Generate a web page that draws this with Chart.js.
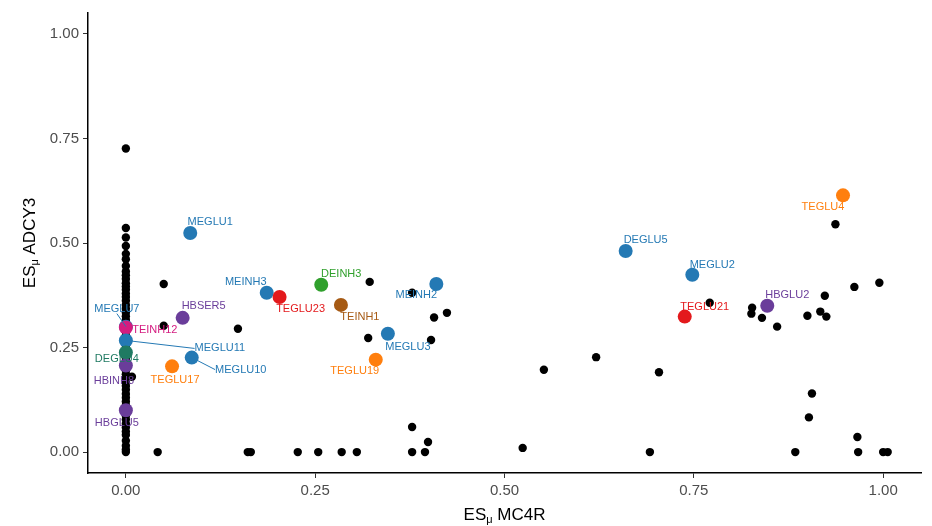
<!DOCTYPE html>
<html>
<head>
<meta charset="utf-8">
<script src="https://cdn.jsdelivr.net/npm/chart.js@4.4.1/dist/chart.umd.min.js"></script>
<style>
  html, body { margin: 0; padding: 0; background: #fff; }
  #wrap { width: 932px; height: 526px; position: relative; }
</style>
</head>
<body>
<div id="wrap"><canvas id="chart"></canvas></div>
<script>
// axis ticks
const xTicks = [0, 0.25, 0.5, 0.75, 1.0];
const yTicks = [0, 0.25, 0.5, 0.75, 1.0];

// background cell types (black dots)
const bgX = [
  0, 0, 0, 0, 0, 0, 0, 0, 0, 0, 0, 0, 0, 0, 0, 0, 0, 0, 0, 0, 0, 0, 0,
  0, 0, 0, 0, 0, 0, 0, 0, 0, 0, 0, 0, 0, 0, 0, 0, 0, 0, 0, 0, 0, 0,
  0.008, 0.050, 0.050, 0.042, 0.148, 0.161, 0.165, 0.227, 0.254, 0.285, 0.305,
  0.322, 0.320, 0.378, 0.378, 0.378, 0.395, 0.399, 0.403, 0.407, 0.424,
  0.524, 0.552, 0.621, 0.692, 0.704, 0.771,
  0.826, 0.827, 0.840, 0.860, 0.884, 0.900, 0.902, 0.906, 0.917, 0.923, 0.925,
  0.937, 0.962, 0.966, 0.967, 0.995, 1.0, 1.006
];
const bgY = [
  0.726, 0.536, 0.513, 0.493, 0.474, 0.461, 0.445, 0.432, 0.423, 0.414, 0.404, 0.396,
  0.388, 0.379, 0.371, 0.362, 0.352, 0.343, 0.334, 0.325, 0.316, 0.289, 0.279,
  0.255, 0.223, 0.195, 0.186, 0.176, 0.167, 0.158, 0.149, 0.139, 0.130, 0.121,
  0.112, 0.087, 0.078, 0.068, 0.059, 0.049, 0.041, 0.027, 0.015, 0.006, 0.0,
  0.180, 0.402, 0.302, 0.0, 0.295, 0.0, 0.0, 0.0, 0.0, 0.0, 0.0,
  0.407, 0.273, 0.381, 0.060, 0.0, 0.0, 0.024, 0.268, 0.322, 0.333,
  0.010, 0.197, 0.227, 0.0, 0.191, 0.357,
  0.331, 0.345, 0.321, 0.300, 0.0, 0.326, 0.083, 0.140, 0.336, 0.374, 0.324,
  0.545, 0.395, 0.036, 0.0, 0.405, 0.0, 0.0
];

// highlighted cell types
const cellNames = [
  'MEGLU7', 'TEINH12', 'MEGLU11', 'DEGLU4', 'HBINH8', 'HBGLU5', 'MEGLU1', 'HBSER5',
  'TEGLU17', 'MEGLU10', 'MEINH3', 'TEGLU23', 'DEINH3', 'TEINH1', 'MEGLU3', 'TEGLU19',
  'MEINH2', 'DEGLU5', 'MEGLU2', 'TEGLU21', 'HBGLU2', 'TEGLU4'
];
const cellX = [
  0, 0, 0, 0, 0, 0, 0.085, 0.075,
  0.061, 0.087, 0.186, 0.203, 0.258, 0.284, 0.346, 0.330,
  0.410, 0.660, 0.748, 0.738, 0.847, 0.947
];
const cellY = [
  0.300, 0.298, 0.267, 0.238, 0.207, 0.100, 0.524, 0.321,
  0.205, 0.226, 0.381, 0.371, 0.400, 0.352, 0.283, 0.221,
  0.402, 0.481, 0.424, 0.324, 0.350, 0.614
];
const cellGroup = [
  'blue', 'magenta', 'blue', 'teal', 'purple', 'purple', 'blue', 'purple',
  'orange', 'blue', 'blue', 'red', 'green', 'brown', 'blue', 'orange',
  'blue', 'blue', 'blue', 'red', 'purple', 'orange'
];

const groupColors = {
  blue: '#2479b4', orange: '#ff7f0e', red: '#e3191c', green: '#30a02c',
  brown: '#a65a14', purple: '#6a3d9a', magenta: '#d41c80', teal: '#1f7a62'
};

// label placement in pixels relative to its point, [dx, dy, connector]
const labelOffsets = [
  [-9, -18, true], [29, 2, false], [94, 8, true], [-9, 6, false], [-12, 15, false], [-9, 13, false],
  [20, -11, false], [21, -12, false],
  [3, 14, false], [49, 12, true], [-21, -11, false], [21, 12, false], [20, -11, false], [19, 12, false],
  [20, 13, false], [-21, 11, false],
  [-20, 11, false], [20, -11, false], [20, -10, false], [20, -10, false], [20, -11, false], [-20, 12, false]
];

const font = '"Liberation Sans", Arial, Helvetica, sans-serif';

const labelPlugin = {
  id: 'cellLabels',
  afterDatasetsDraw(chart) {
    const ctx = chart.ctx;
    const meta = chart.getDatasetMeta(0);
    ctx.save();
    ctx.font = '11px ' + font;
    ctx.textAlign = 'center';
    ctx.textBaseline = 'middle';
    meta.data.forEach((pt, i) => {
      const [dx, dy, conn] = labelOffsets[i];
      const col = groupColors[cellGroup[i]];
      const lx = pt.x + dx, ly = pt.y + dy;
      if (conn) {
        const w = ctx.measureText(cellNames[i]).width / 2;
        let ex = lx, ey = ly;
        if (Math.abs(dx) > w) { ex = dx > 0 ? lx - w : lx + w; }
        else { ey = dy > 0 ? ly - 5 : ly + 5; }
        ctx.strokeStyle = col;
        ctx.lineWidth = 1;
        ctx.beginPath();
        ctx.moveTo(pt.x, pt.y);
        ctx.lineTo(ex, ey);
        ctx.stroke();
      }
      ctx.fillStyle = col;
      ctx.fillText(cellNames[i], lx, ly);
    });
    ctx.restore();
  }
};

// axis titles with a subscript mu
function drawSubTitle(ctx, main, sub, rest, x, y, rotate) {
  ctx.save();
  ctx.translate(x, y);
  if (rotate) ctx.rotate(-Math.PI / 2);
  ctx.fillStyle = '#000';
  ctx.textBaseline = 'middle';
  ctx.textAlign = 'left';
  const big = '17px ' + font, small = '11px ' + font;
  ctx.font = big;
  const w1 = ctx.measureText(main).width, w3 = ctx.measureText(rest).width;
  ctx.font = small;
  const w2 = ctx.measureText(sub).width;
  let cx = -(w1 + w2 + w3) / 2;
  ctx.font = big; ctx.fillText(main, cx, 0); cx += w1;
  ctx.font = small; ctx.fillText(sub, cx, 5); cx += w2;
  ctx.font = big; ctx.fillText(rest, cx, 0);
  ctx.restore();
}

const titlePlugin = {
  id: 'axisTitles',
  afterDraw(chart) {
    const a = chart.chartArea;
    drawSubTitle(chart.ctx, 'ES', 'μ', ' MC4R', (a.left + a.right) / 2, 515, false);
    drawSubTitle(chart.ctx, 'ES', 'μ', ' ADCY3', 30, (a.top + a.bottom) / 2, true);
  }
};

const data = {
  datasets: [
    {
      label: 'cell types',
      data: cellX.map((x, i) => ({ x: x, y: cellY[i] })),
      pointRadius: 7,
      pointBackgroundColor: cellGroup.map(g => groupColors[g]),
      pointBorderWidth: 0,
      order: 0
    },
    {
      label: 'other',
      data: bgX.map((x, i) => ({ x: x, y: bgY[i] })),
      pointRadius: 4.2,
      pointBackgroundColor: '#000',
      pointBorderWidth: 0,
      order: 1
    }
  ]
};

const axisCommon = {
  type: 'linear',
  min: -0.05,
  max: 1.05,
  border: { display: true, color: '#000', width: 1.5 },
  grid: { display: true, drawOnChartArea: false, drawTicks: true, tickLength: 5, color: '#333', lineWidth: 1 },
  ticks: {
    color: '#4d4d4d',
    font: { family: font, size: 15 },
    padding: 4,
    callback: v => v.toFixed(2)
  }
};

const config = {
  type: 'scatter',
  data: data,
  options: {
    responsive: true,
    maintainAspectRatio: false,
    animation: false,
    devicePixelRatio: 1,
    layout: { padding: { top: 11, right: 11, left: 0, bottom: 0 } },
    plugins: { legend: { display: false }, tooltip: { enabled: false } },
    scales: {
      x: Object.assign({}, axisCommon, {
        afterBuildTicks: s => { s.ticks = xTicks.map(v => ({ value: v })); },
        afterFit: s => { s.height = 53; }
      }),
      y: Object.assign({}, axisCommon, {
        afterBuildTicks: s => { s.ticks = yTicks.map(v => ({ value: v })); },
        afterFit: s => { s.width = 88; }
      })
    }
  },
  plugins: [labelPlugin, titlePlugin]
};

new Chart(document.getElementById('chart'), config);
</script>
</body>
</html>
